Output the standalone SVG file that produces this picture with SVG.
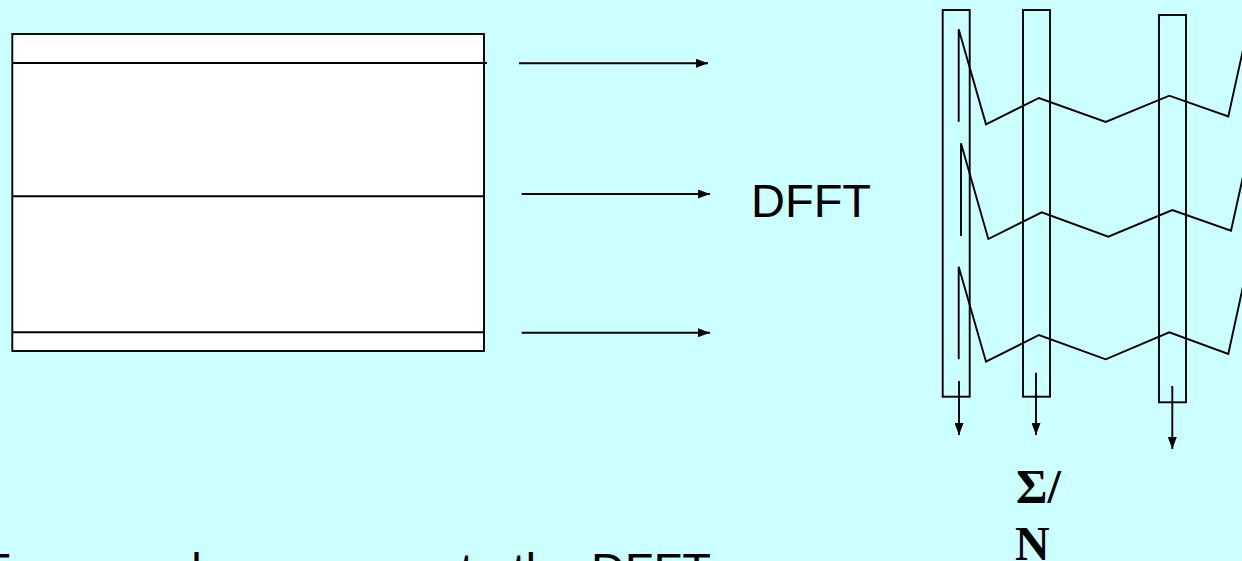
<svg xmlns="http://www.w3.org/2000/svg" width="1242" height="561" viewBox="0 0 1242 561">
  <defs>
    <style>
      .ln { fill: none; stroke: #000; stroke-width: 1.9; }
      .box { fill: #fff; stroke: #000; stroke-width: 1.9; }
      .col { fill: none; stroke: #000; stroke-width: 1.9; }
      .sans { font-family: "Liberation Sans", Arial, sans-serif; font-size: 47px; fill: #000; }
      .serif { font-family: "Liberation Serif", "Times New Roman", serif; font-size: 48px; font-weight: bold; fill: #000; }
    </style>
    <marker id="ah" viewBox="0 0 12 9" refX="12" refY="4.5" markerWidth="12" markerHeight="9" markerUnits="userSpaceOnUse" orient="auto">
      <path d="M0,0 L12,4.5 L0,9 Z" fill="#000"/>
    </marker>
  </defs>
  <rect width="1242" height="561" fill="#CCFFFF"/>

  <g id="data-block">
    <rect class="box" x="12.3" y="34" width="471.7" height="317"/>
    <line class="ln" x1="12.3" y1="63" x2="487" y2="63"/>
    <line class="ln" x1="12.3" y1="196.3" x2="484" y2="196.3"/>
    <line class="ln" x1="12.3" y1="332.3" x2="484" y2="332.3"/>
  </g>

  <g id="dfft-label">
    <text class="sans" x="751" y="217">DFFT</text>
  </g>

  <g id="columns">
    <rect class="col" x="942.7" y="10" width="27" height="386.7"/>
    <rect class="col" x="1023" y="10" width="27" height="386.7"/>
    <rect class="col" x="1159" y="15" width="27" height="387.3"/>
  </g>

  <g id="spectra">
    <polyline class="ln" points="958.7,121.7 958.7,29.3 986,124.3 1039,98 1105.7,122 1169.3,95.7 1228.3,116.5 1252,9"/>
    <polyline class="ln" points="961,236 961,143.3 988.3,239 1041.7,212.3 1108.3,236.7 1172.3,210 1231,230.7 1254,127"/>
    <polyline class="ln" points="958.7,359.3 958.7,266.7 986,361.7 1039,335 1105.7,359.3 1169.3,332.3 1228.3,354 1252,245"/>
  </g>

  <g id="connectors">
    <line class="ln" x1="519" y1="63.3" x2="708" y2="63.3" marker-end="url(#ah)"/>
    <line class="ln" x1="521.7" y1="194" x2="710" y2="194" marker-end="url(#ah)"/>
    <line class="ln" x1="521.7" y1="332.7" x2="710" y2="332.7" marker-end="url(#ah)"/>
    <line class="ln" x1="959" y1="381" x2="959" y2="435" marker-end="url(#ah)"/>
    <line class="ln" x1="1036" y1="372.7" x2="1036" y2="435" marker-end="url(#ah)"/>
    <line class="ln" x1="1172.3" y1="386" x2="1172.3" y2="449" marker-end="url(#ah)"/>
  </g>

  <g id="average-label">
    <text class="serif" x="1016" y="503">Σ/</text>
    <text class="serif" x="1015" y="560">N</text>
  </g>

  <g id="caption">
    <text class="sans" x="711" y="586" text-anchor="end">Traces or layers go on to the DFFT</text>
  </g>
</svg>
